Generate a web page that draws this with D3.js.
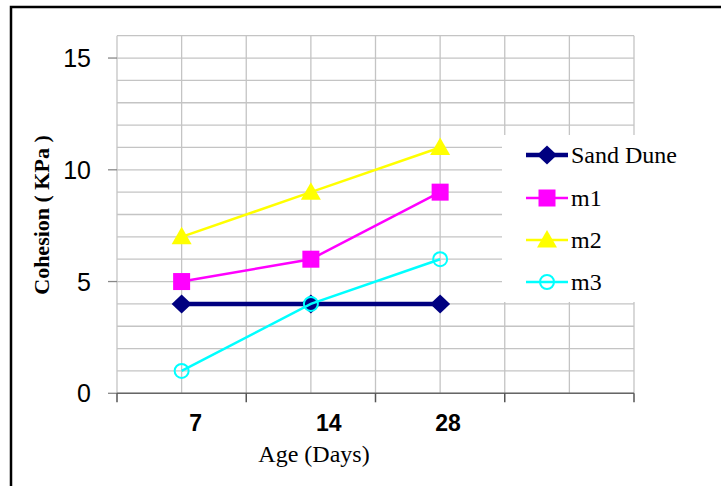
<!DOCTYPE html>
<html><head><meta charset="utf-8">
<script src="https://cdn.jsdelivr.net/npm/d3@7"></script>
<style>body{margin:0;background:#fff}svg{display:block}</style>
</head><body>
<script>
const categories = ["7", "14", "28", ""];
const sandDune = [4, 4, 4];
const m1 = [5, 6, 9];
const m2 = [7, 9, 11];
const m3 = [1, 4, 6];
const yTicks = [0, 5, 10, 15];
const seriesNames = ["Sand Dune", "m1", "m2", "m3"];

const W = 721, H = 486;
const svg = d3.select("body").append("svg").attr("width", W).attr("height", H);

// outer frame
svg.append("rect").attr("x", 11).attr("y", 7).attr("width", 730).attr("height", 500)
  .attr("fill", "none").attr("stroke", "#000").attr("stroke-width", 2.5);

const L = 117, R = 634, T = 35.7, B = 393.3;
const x = d3.scaleBand().domain(categories).range([L, R]).padding(0);
const y = d3.scaleLinear().domain([0, 16]).range([B, T]);
const cx = c => x(c) + x.bandwidth() / 2;

const grid = svg.append("g");
grid.selectAll("line.h").data(d3.range(0, 17)).join("line")
  .attr("x1", L).attr("x2", R).attr("y1", d => y(d)).attr("y2", d => y(d))
  .attr("stroke", "#c4c4c4").attr("stroke-width", 1.3);
const vx = [];
categories.forEach(c => { vx.push(x(c)); vx.push(cx(c)); });
vx.push(R);
grid.selectAll("line.v").data(vx).join("line")
  .attr("x1", d => d).attr("x2", d => d).attr("y1", T).attr("y2", B)
  .attr("stroke", "#c4c4c4").attr("stroke-width", 1.3);

// y ticks & labels
svg.selectAll("line.yt").data(yTicks).join("line")
  .attr("x1", 108).attr("x2", L).attr("y1", d => y(d)).attr("y2", d => y(d))
  .attr("stroke", "#888").attr("stroke-width", 1.3);
svg.selectAll("text.yl").data(yTicks).join("text")
  .attr("x", 91).attr("y", d => y(d)).attr("dy", "0.36em")
  .attr("text-anchor", "end").attr("font-family", "Liberation Sans, Arial, sans-serif")
  .attr("font-size", 25).attr("fill", "#000").text(d => d);

// x axis line and ticks
svg.append("line").attr("x1", L).attr("x2", R).attr("y1", B).attr("y2", B)
  .attr("stroke", "#666").attr("stroke-width", 1.6);
const xt = categories.map(c => x(c)).concat([R]);
svg.selectAll("line.xt").data(xt).join("line")
  .attr("x1", d => d).attr("x2", d => d).attr("y1", B).attr("y2", B + 9)
  .attr("stroke", "#555").attr("stroke-width", 1.5);
const labelShift = [14, 18, 8, 0];
svg.selectAll("text.xl").data(categories).join("text")
  .attr("x", (d, i) => cx(d) + labelShift[i]).attr("y", 431)
  .attr("text-anchor", "middle").attr("font-family", "Liberation Sans, Arial, sans-serif")
  .attr("font-weight", "bold").attr("font-size", 23).attr("fill", "#000").text(d => d);

// axis titles
svg.append("text").attr("x", 314).attr("y", 462).attr("text-anchor", "middle")
  .attr("font-family", "Liberation Serif, Times New Roman, serif").attr("font-size", 24)
  .text("Age (Days)");
svg.append("text").attr("transform", "translate(49,215) rotate(-90)").attr("text-anchor", "middle")
  .attr("font-family", "Liberation Serif, Times New Roman, serif").attr("font-weight", "bold")
  .attr("font-size", 22).text("Cohesion ( KPa )");

// legend background
svg.append("rect").attr("x", 502).attr("y", 135).attr("width", 190).attr("height", 167).attr("fill", "#fff");

const styles = [
  {color: "#000080", width: 4.5, shape: "diamond"},
  {color: "#FF00FF", width: 2.5, shape: "square"},
  {color: "#FFFF00", width: 2.5, shape: "triangle"},
  {color: "#00FFFF", width: 2.5, shape: "circle"}
];
const allSeries = [sandDune, m1, m2, m3];

function marker(g, shape, color, px, py) {
  if (shape === "diamond") {
    g.append("path").attr("d", `M${px},${py-9.5}L${px+10},${py}L${px},${py+9.5}L${px-10},${py}Z`).attr("fill", color);
  } else if (shape === "square") {
    g.append("rect").attr("x", px - 8.5).attr("y", py - 8.5).attr("width", 17).attr("height", 17).attr("fill", color);
  } else if (shape === "triangle") {
    g.append("path").attr("d", `M${px},${py-10}L${px+10},${py+7.5}L${px-10},${py+7.5}Z`).attr("fill", color);
  } else {
    g.append("circle").attr("cx", px).attr("cy", py).attr("r", 7).attr("fill", "none")
      .attr("stroke", color).attr("stroke-width", 2);
  }
}

const lineGen = d3.line().x((d, i) => cx(categories[i])).y(d => y(d));
allSeries.forEach((s, k) => {
  const st = styles[k];
  const g = svg.append("g");
  g.append("path").attr("d", lineGen(s)).attr("fill", "none")
    .attr("stroke", st.color).attr("stroke-width", st.width);
  s.forEach((v, i) => marker(g, st.shape, st.color, cx(categories[i]), y(v)));
});

// legend
const legY = [155, 198, 240, 282];
seriesNames.forEach((n, k) => {
  const st = styles[k];
  const g = svg.append("g");
  g.append("line").attr("x1", 526).attr("x2", 568).attr("y1", legY[k]).attr("y2", legY[k])
    .attr("stroke", st.color).attr("stroke-width", st.width);
  marker(g, st.shape, st.color, 547, legY[k]);
  g.append("text").attr("x", 571).attr("y", legY[k]).attr("dy", "0.33em")
    .attr("font-family", "Liberation Serif, Times New Roman, serif").attr("font-size", 24)
    .text(n);
});
</script>
</body></html>
